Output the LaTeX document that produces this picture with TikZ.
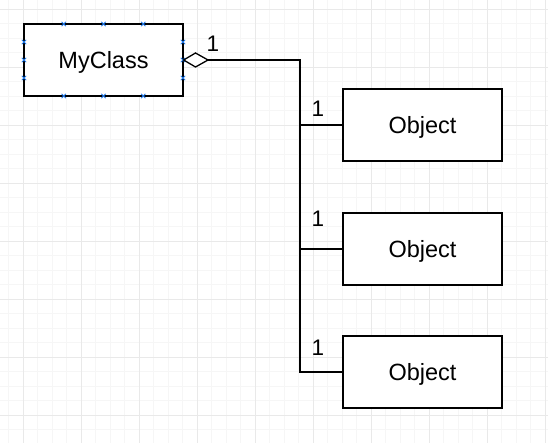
\documentclass[tikz,border=0pt]{standalone}
\usepackage{fontspec}
\setmainfont{Liberation Sans}
\definecolor{gridminor}{RGB}{246,246,246}
\definecolor{gridmajor}{RGB}{233,233,233}
\definecolor{handle}{RGB}{30,120,235}
\tikzset{
  box/.style={draw=black, line width=1.3pt, fill=white, minimum width=159pt, minimum height=72pt, inner sep=0pt, text depth=0pt, font=\fontsize{23.5}{28}\selectfont},
  conn/.style={draw=black, line width=1.3pt},
  mult/.style={font=\fontsize{22.5}{27}\selectfont, inner sep=0pt},
  handlemark/.style={handle, line width=0.8pt}
}
\begin{document}
\begin{tikzpicture}[x=1pt,y=-1pt]
\useasboundingbox (0,0) rectangle (548,443);
\fill[white] (0,0) rectangle (548,443);
% grid
\foreach \i in {0,...,37} {
  \pgfmathsetmacro\gx{8.5+14.5*\i}
  \draw[gridminor, line width=0.8pt] (\gx,0) -- (\gx,443);
}
\foreach \i in {0,...,30} {
  \pgfmathsetmacro\gy{9+14.5*\i}
  \draw[gridminor, line width=0.8pt] (0,\gy) -- (548,\gy);
}
\foreach \i in {0,...,9} {
  \pgfmathsetmacro\gx{23+58*\i}
  \draw[gridmajor, line width=0.9pt] (\gx,0) -- (\gx,443);
}
\foreach \i in {0,...,7} {
  \pgfmathsetmacro\gy{9+58*\i}
  \draw[gridmajor, line width=0.9pt] (0,\gy) -- (548,\gy);
}
% nodes
\node[box] (my) at (103.5,60) {MyClass};
\node[box] (o1) at (422.5,125) {Object};
\node[box] (o2) at (422.5,249) {Object};
\node[box] (o3) at (422.5,372) {Object};
% handles
\foreach \hx in {63.75,103.5,143.25} {
  \foreach \hy in {24,96} {
    \draw[handlemark] (\hx-2.2,\hy-2.2) -- (\hx+2.2,\hy+2.2) (\hx-2.2,\hy+2.2) -- (\hx+2.2,\hy-2.2);
  }
}
\foreach \hy in {42,60,78} {
  \foreach \hx in {24,183} {
    \draw[handlemark] (\hx-2.2,\hy-2.2) -- (\hx+2.2,\hy+2.2) (\hx-2.2,\hy+2.2) -- (\hx+2.2,\hy-2.2);
  }
}
% connectors
\coordinate (dtip) at (my.east);
\coordinate (dend) at (208,60);
\coordinate (j0) at (300,60);
\coordinate (j1) at (300,125);
\coordinate (j2) at (300,249);
\coordinate (j3) at (300,372);
\draw[conn, fill=white, line join=miter] (dtip) -- (195.5,53) -- (dend) -- (195.5,67) -- cycle;
\draw[conn] (dend) -- (j0) -- (j3) -- (o3.west);
\draw[conn] (j1) -- (o1.west);
\draw[conn] (j2) -- (o2.west);
% multiplicities
\node[mult] (m0) at (213,43.5) {1};
\node[mult] (m1) at (318,108.5) {1};
\node[mult] (m2) at (318,218.5) {1};
\node[mult] (m3) at (318,347.5) {1};
\end{tikzpicture}
\end{document}
